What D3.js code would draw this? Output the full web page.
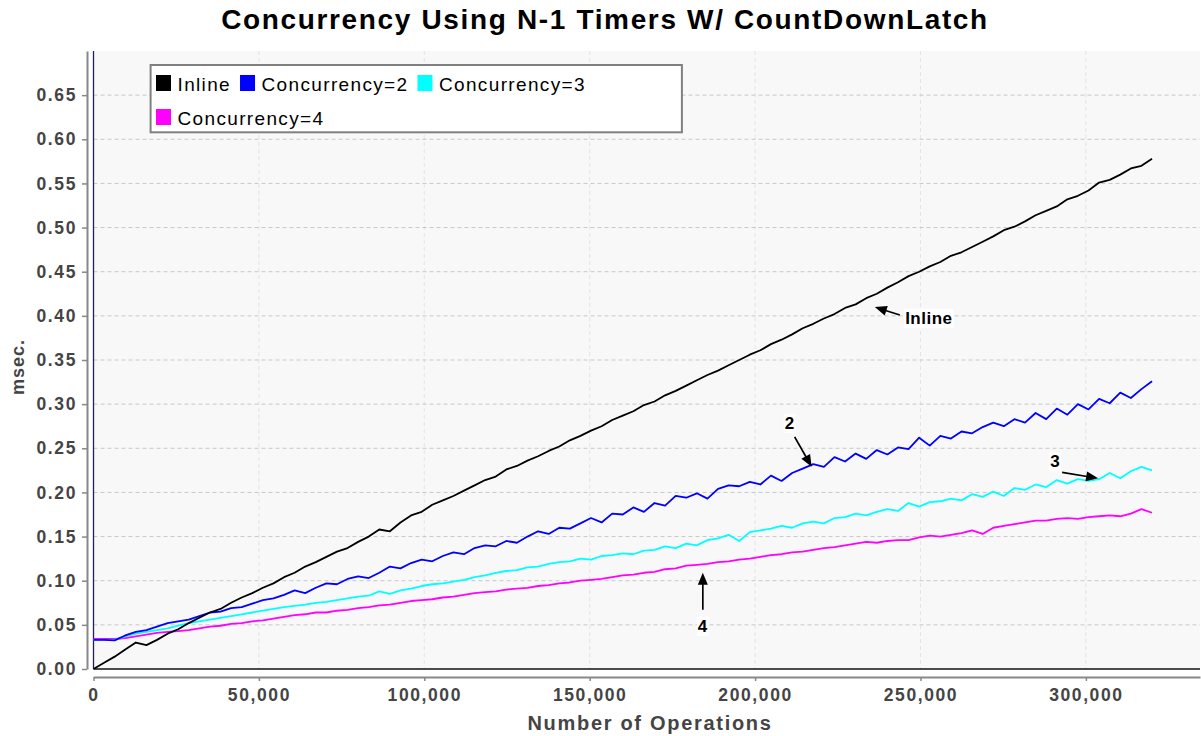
<!DOCTYPE html>
<html><head><meta charset="utf-8">
<script src="https://cdn.jsdelivr.net/npm/d3@7"></script>
<style>body{margin:0;background:#fff} svg{display:block}</style>
</head><body><svg id="chart" width="1201" height="736"></svg>
<script>
// ---------------- DATA ----------------
const chartTitle = "Concurrency Using N-1 Timers W/ CountDownLatch";
const xAxisTitle = "Number of Operations";
const yAxisTitle = "msec.";
const seriesNames = ["Inline", "Concurrency=2", "Concurrency=3", "Concurrency=4"];
const operations = d3.range(0, 320001, 3200);
const inlineValues = [0,0.007,0.014,0.022,0.030,0.027,0.033,0.040,0.045,0.052,
0.058,0.064,0.068,0.075,0.081,0.086,0.092,0.097,0.104,0.109,
0.116,0.121,0.127,0.133,0.137,0.144,0.150,0.158,0.156,0.166,
0.174,0.178,0.186,0.191,0.196,0.202,0.208,0.214,0.218,0.226,
0.230,0.236,0.241,0.247,0.252,0.259,0.264,0.270,0.275,0.282,
0.287,0.292,0.299,0.303,0.310,0.315,0.321,0.327,0.333,0.338,
0.344,0.350,0.356,0.361,0.368,0.373,0.379,0.386,0.391,0.397,
0.402,0.409,0.413,0.420,0.425,0.432,0.438,0.445,0.450,0.456,
0.461,0.468,0.472,0.478,0.484,0.490,0.497,0.501,0.507,0.514,
0.519,0.524,0.532,0.536,0.542,0.551,0.554,0.560,0.567,0.570,
0.578];
const conc2Values = [0.033,0.033,0.0325,0.038,0.042,0.044,0.048,0.052,0.054,0.056,
0.060,0.064,0.065,0.069,0.070,0.074,0.078,0.080,0.084,0.089,
0.086,0.092,0.097,0.096,0.102,0.105,0.103,0.109,0.116,0.114,
0.120,0.124,0.122,0.128,0.132,0.130,0.137,0.140,0.139,0.145,
0.143,0.150,0.156,0.153,0.160,0.159,0.165,0.171,0.166,0.176,
0.175,0.183,0.178,0.188,0.185,0.196,0.194,0.199,0.193,0.204,
0.208,0.207,0.212,0.209,0.219,0.213,0.222,0.227,0.232,0.229,
0.240,0.235,0.244,0.238,0.248,0.243,0.251,0.249,0.262,0.253,
0.264,0.261,0.269,0.267,0.274,0.279,0.275,0.283,0.279,0.290,
0.283,0.295,0.288,0.300,0.294,0.306,0.301,0.313,0.307,0.317,
0.326];
const conc3Values = [0.033,0.033,0.033,0.037,0.040,0.042,0.044,0.046,0.049,0.052,
0.054,0.056,0.058,0.060,0.062,0.064,0.066,0.068,0.070,0.0715,
0.073,0.075,0.076,0.078,0.080,0.082,0.083,0.088,0.085,0.089,
0.091,0.094,0.096,0.097,0.099,0.101,0.104,0.106,0.109,0.111,
0.112,0.115,0.116,0.119,0.121,0.122,0.125,0.124,0.128,0.129,
0.131,0.130,0.134,0.135,0.139,0.137,0.142,0.140,0.146,0.148,
0.152,0.145,0.155,0.157,0.159,0.162,0.160,0.165,0.167,0.165,
0.171,0.172,0.176,0.174,0.178,0.181,0.179,0.188,0.184,0.189,
0.190,0.193,0.191,0.198,0.195,0.201,0.196,0.205,0.203,0.209,
0.206,0.214,0.210,0.215,0.213,0.215,0.222,0.216,0.224,0.229,
0.225];
const conc4Values = [0.034,0.034,0.034,0.035,0.037,0.039,0.041,0.042,0.043,0.044,
0.046,0.048,0.049,0.051,0.052,0.054,0.055,0.057,0.059,0.061,
0.062,0.064,0.064,0.066,0.067,0.069,0.070,0.072,0.073,0.075,
0.077,0.078,0.079,0.081,0.082,0.084,0.086,0.087,0.088,0.090,
0.091,0.092,0.094,0.095,0.097,0.098,0.100,0.101,0.102,0.104,
0.106,0.107,0.109,0.110,0.113,0.114,0.117,0.118,0.119,0.121,
0.122,0.124,0.125,0.127,0.129,0.130,0.132,0.133,0.135,0.137,
0.138,0.140,0.142,0.144,0.143,0.145,0.146,0.146,0.149,0.151,
0.150,0.152,0.154,0.157,0.153,0.160,0.162,0.164,0.166,0.168,
0.168,0.170,0.171,0.170,0.172,0.173,0.174,0.173,0.176,0.181,
0.177];
const yTickValues = [0,0.05,0.10,0.15,0.20,0.25,0.30,0.35,0.40,0.45,0.50,0.55,0.60,0.65];
const xTickValues = [0,50000,100000,150000,200000,250000,300000];
const xAxisMax = 334500;
const yAxisMax = 0.70;
const annotationLabels = ["Inline", "2", "3", "4"];
const annotationX = [236200, 217100, 303700, 184200];
const annotationY = [0.410, 0.229, 0.216, 0.109];

// ---------------- STYLE / LAYOUT ----------------
const seriesColors = ["#000000", "#0000ff", "#00ffff", "#ff00ff"];
const seriesValues = [inlineValues, conc2Values, conc3Values, conc4Values];
// tail offset and label offset (px) relative to arrow tip
const annotationLayout = [
  {tail:[25, 8],   label:[54, 17]},
  {tail:[-17,-30], label:[-22,-38]},
  {tail:[-36,-6],  label:[-43,-11]},
  {tail:[0, 37],   label:[0, 59]}
];
const FONT = "'Liberation Sans', Arial, Helvetica, sans-serif";
const plot = {left: 93.5, right: 1200, top: 51, bottom: 669};

const svg = d3.select("#chart");
svg.append("rect").attr("width",1201).attr("height",736).attr("fill","#fff");

const x = d3.scaleLinear().domain([0, xAxisMax]).range([plot.left, plot.right]);
const y = d3.scaleLinear().domain([0, yAxisMax]).range([plot.bottom, plot.top]);

// plot background
svg.append("rect").attr("x",plot.left).attr("y",plot.top)
  .attr("width",plot.right-plot.left).attr("height",plot.bottom-plot.top)
  .attr("fill","#f8f8f8");

// gridlines
const grid = svg.append("g");
grid.selectAll("line.v").data(xTickValues.filter(d=>d>0)).join("line")
  .attr("x1",d=>x(d)).attr("x2",d=>x(d)).attr("y1",plot.top).attr("y2",plot.bottom)
  .attr("stroke","#e4e4e4").attr("stroke-width",1).attr("stroke-dasharray","4,3");
grid.selectAll("line.h").data(yTickValues.filter(d=>d>0)).join("line")
  .attr("x1",plot.left).attr("x2",plot.right).attr("y1",d=>y(d)).attr("y2",d=>y(d))
  .attr("stroke","#c8c8c8").attr("stroke-width",1).attr("stroke-dasharray","4,3");

// plot edges (left and bottom)
svg.append("line").attr("x1",plot.left).attr("x2",plot.left).attr("y1",plot.top).attr("y2",plot.bottom)
  .attr("stroke","#20205a").attr("stroke-width",1.3);
svg.append("line").attr("x1",plot.left).attr("x2",plot.right).attr("y1",plot.bottom).attr("y2",plot.bottom)
  .attr("stroke","#111").attr("stroke-width",1.3);

// series (reverse order so Inline on top)
const line = d3.line().x((d,i)=>x(operations[i])).y(d=>y(d));
for (let s = seriesValues.length-1; s >= 0; s--) {
  svg.append("path").datum(seriesValues[s]).attr("d", line)
    .attr("fill","none").attr("stroke",seriesColors[s]).attr("stroke-width",1.8)
    .attr("stroke-linejoin","round");
}

// axes
const fmtY = d3.format(".2f");
const fmtX = d3.format(",");
const yAxis = svg.append("g").attr("transform","translate(87,0)")
  .call(d3.axisLeft(y).tickValues(yTickValues).tickFormat(fmtY).tickSize(5).tickSizeOuter(0).tickPadding(5));
const xAxis = svg.append("g").attr("transform","translate(0,677)")
  .call(d3.axisBottom(x).tickValues(xTickValues).tickFormat(fmtX).tickSize(4).tickSizeOuter(0).tickPadding(8));
[yAxis, xAxis].forEach(a=>{
  a.select(".domain").attr("stroke","#888").attr("stroke-width",2);
  a.selectAll(".tick line").attr("stroke","#888").attr("stroke-width",1.5);
  a.selectAll(".tick text").attr("fill","#444").style("font-family",FONT)
    .style("font-weight","bold").style("font-size","17.5px").style("letter-spacing","1.6px");
});

// titles
svg.append("text").attr("x",605).attr("y",29).attr("text-anchor","middle")
  .style("font-family",FONT).style("font-weight","bold").style("font-size","28px")
  .style("letter-spacing","1.65px").attr("fill","#000").text(chartTitle);
svg.append("text").attr("x",650).attr("y",730).attr("text-anchor","middle")
  .style("font-family",FONT).style("font-weight","bold").style("font-size","20px")
  .style("letter-spacing","1.7px").attr("fill","#444").text(xAxisTitle);
svg.append("text").attr("transform","translate(24,367) rotate(-90)").attr("text-anchor","middle")
  .style("font-family",FONT).style("font-weight","bold").style("font-size","18px")
  .style("letter-spacing","1px").attr("fill","#444").text(yAxisTitle);

// annotations
annotationLabels.forEach((lab,i)=>{
  const tx = x(annotationX[i]), ty = y(annotationY[i]);
  const L = annotationLayout[i];
  const bx = tx + L.tail[0], by = ty + L.tail[1];
  const dx = tx-bx, dy = ty-by, len = Math.hypot(dx,dy);
  const ux = dx/len, uy = dy/len;
  const head = 12, hw = 5;
  const g = svg.append("g");
  g.append("line").attr("x1",bx).attr("y1",by).attr("x2",tx-ux*head*0.8).attr("y2",ty-uy*head*0.8)
    .attr("stroke","#000").attr("stroke-width",1.7);
  const hx = tx-ux*head, hy = ty-uy*head;
  g.append("polygon").attr("points",[[tx,ty],[hx-uy*hw,hy+ux*hw],[hx+uy*hw,hy-ux*hw]].map(p=>p.join(",")).join(" "))
    .attr("fill","#000");
  const t = g.append("text").attr("x",tx+L.label[0]).attr("y",ty+L.label[1])
    .attr("text-anchor","middle").style("font-family",FONT).style("font-weight","bold")
    .style("font-size","17px").style("letter-spacing","0.5px").attr("fill","#000").text(lab);
  const bb = t.node().getBBox();
  g.insert("rect","text").attr("x",bb.x-1).attr("y",bb.y).attr("width",bb.width+2).attr("height",bb.height)
    .attr("fill","#fff");
});

// legend
const lg = svg.append("g");
lg.append("rect").attr("x",150.6).attr("y",65).attr("width",531.3).attr("height",67.3)
  .attr("fill","#fff").attr("stroke","#808080").attr("stroke-width",2);
let lx = 156, row = 0;
seriesNames.forEach((name,i)=>{
  if (i === 3) { row = 1; lx = 156; }
  const sy = row === 0 ? 75 : 109;
  lg.append("rect").attr("x",lx).attr("y",sy).attr("width",15).attr("height",16).attr("fill",seriesColors[i]);
  const t = lg.append("text").attr("x",lx+21.5).attr("y",sy+16)
    .style("font-family",FONT).style("font-size","19px").style("letter-spacing","1.35px")
    .attr("fill","#000").text(name);
  lx = lx + 21.5 + t.node().getComputedTextLength() + 9;
});
</script>
</body></html>
